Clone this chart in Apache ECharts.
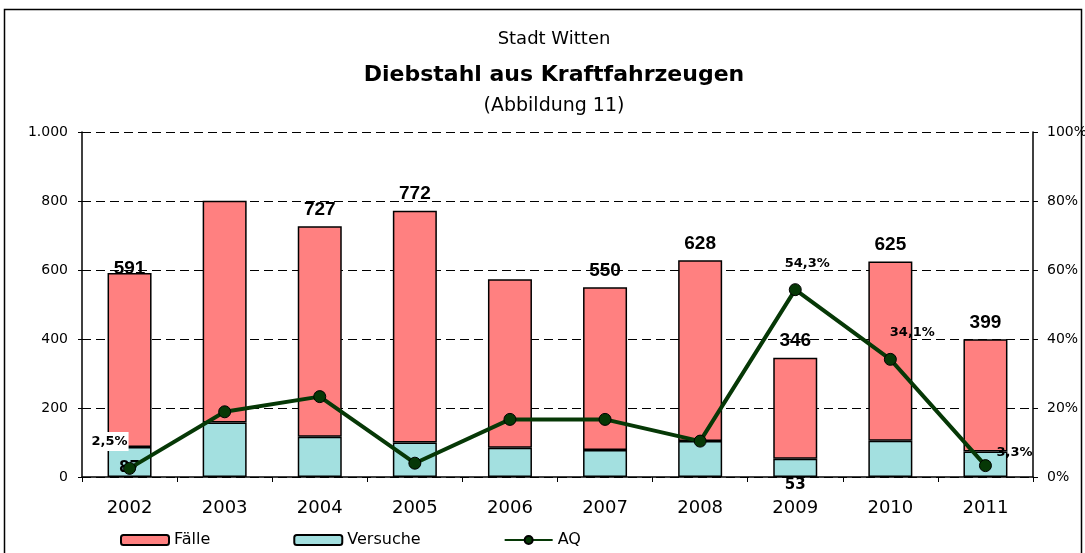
<!DOCTYPE html>
<html>
<head>
<meta charset="utf-8">
<script src="https://cdn.jsdelivr.net/npm/echarts@6/dist/echarts.min.js"></script>
<style>
  html, body { margin: 0; padding: 0; background: #fff; }
  #main { width: 1085px; height: 553px; }
</style>
</head>
<body>
<div id="main"></div>
<script>
// Jahre
var years = ['2002', '2003', '2004', '2005', '2006', '2007', '2008', '2009', '2010', '2011'];
// Fälle gesamt (inkl. Versuche)
var faelle = [591, 801, 727, 772, 573, 550, 628, 346, 625, 399];
// davon Versuche
var versuche = [87, 158, 117, 100, 85, 78, 104, 53, 105, 74];
// Aufklärungsquote in %
var aq = [2.5, 18.9, 23.3, 4.0, 16.7, 16.7, 10.4, 54.3, 34.1, 3.3];
// welche Werte beschriftet sind
var faelleLabel = [true, false, true, true, false, true, true, true, true, true];
var versucheLabel = [true, false, false, false, false, false, false, true, false, false];
var aqLabel = [true, false, false, false, false, false, false, true, true, true];

var wideFont = '"DejaVu Sans", Verdana, sans-serif';
var boldFont = '"Liberation Sans", Arial, sans-serif';

function deNum(v) {
    return v >= 1000 ? Math.floor(v / 1000) + '.' + String(v % 1000).padStart(3, '0') : String(v);
}

var chart = echarts.init(document.getElementById('main'));

// oberer (roter) Teil = Fälle minus Versuche
var redData = faelle.map(function (v, i) {
    var item = { value: v - versuche[i] };
    if (!faelleLabel[i]) item.label = { show: false };
    if (i === 0) item.label = { show: true, offset: [0, 12] };
    return item;
});

var cyanData = versuche.map(function (v, i) {
    var item = { value: v, label: { show: versucheLabel[i] } };
    if (i === 0) item.label = { show: true, position: 'inside', offset: [0, 6] };
    if (i === 7) item.label = { show: true, position: 'bottom', distance: 1 };
    return item;
});

var aqOffsets = [[-20, -6], null, null, null, null, null, null, [12, -8], [22, -9], [29, 5]];
var aqData = aq.map(function (v, i) {
    var item = { value: v, label: { show: aqLabel[i] } };
    if (aqLabel[i]) item.label.offset = aqOffsets[i];
    if (i === 0) {
        item.label.backgroundColor = '#fff';
        item.label.padding = [3, 1];
    }
    return item;
});

chart.setOption({
    animation: false,
    textStyle: { fontFamily: wideFont },
    title: [
        { text: 'Stadt Witten', left: 549, top: 25, textAlign: 'center',
          textStyle: { fontSize: 18, fontWeight: 'normal', color: '#000', fontFamily: wideFont } },
        { text: 'Diebstahl aus Kraftfahrzeugen', left: 549, top: 59, textAlign: 'center',
          textStyle: { fontSize: 22, fontWeight: 'bold', color: '#000', fontFamily: wideFont } },
        { text: '(Abbildung 11)', left: 549, top: 92, textAlign: 'center',
          textStyle: { fontSize: 19, fontWeight: 'normal', color: '#000', fontFamily: wideFont } }
    ],
    graphic: [{
        type: 'rect',
        shape: { x: 4.5, y: 9.5, width: 1077, height: 560 },
        style: { fill: 'none', stroke: '#000', lineWidth: 1.5 },
        silent: true
    }],
    legend: {
        left: 115,
        top: 527,
        itemWidth: 48,
        itemHeight: 10,
        itemGap: 83,
        textStyle: { fontSize: 16, color: '#000', fontFamily: wideFont },
        data: ['Fälle', 'Versuche', 'AQ']
    },
    grid: { left: 82, right: 52, top: 132, bottom: 76, outerBoundsMode: 'none', containLabel: false },
    xAxis: {
        type: 'category',
        data: years,
        axisLine: { lineStyle: { color: '#000', width: 1.5 } },
        axisTick: { show: true, length: 5, lineStyle: { color: '#000' } },
        axisLabel: { fontSize: 18, color: '#000', margin: 22, fontFamily: wideFont }
    },
    yAxis: [{
        type: 'value',
        min: 0, max: 1000, interval: 200,
        axisLine: { show: true, lineStyle: { color: '#000', width: 1.5 } },
        axisTick: { show: true, length: 4, lineStyle: { color: '#000' } },
        axisLabel: { fontSize: 14, color: '#000', margin: 14, fontFamily: wideFont,
            formatter: function (v) { return deNum(v); } },
        splitLine: { show: true, lineStyle: { color: '#000', type: [9, 5], width: 1 } }
    }, {
        type: 'value',
        min: 0, max: 100, interval: 20,
        axisLine: { show: true, lineStyle: { color: '#000', width: 1.5 } },
        axisTick: { show: true, length: 5, lineStyle: { color: '#000' } },
        axisLabel: { fontSize: 14, color: '#000', margin: 14, fontFamily: wideFont,
            formatter: '{value}%' },
        splitLine: { show: false }
    }],
    series: [{
        name: 'Versuche',
        type: 'bar',
        stack: 'kfz',
        barWidth: 44,
        itemStyle: { color: '#a3e0e0', borderColor: '#000', borderWidth: 1.5 },
        label: { show: false, fontSize: 15, fontWeight: 'bold', color: '#000', fontFamily: wideFont },
        data: cyanData
    }, {
        name: 'Fälle',
        type: 'bar',
        stack: 'kfz',
        barWidth: 44,
        itemStyle: { color: '#ff8080', borderColor: '#000', borderWidth: 1.5 },
        label: {
            show: true, position: 'top', distance: 7,
            fontSize: 19, fontWeight: 'bold', color: '#000', fontFamily: boldFont,
            formatter: function (p) { return faelle[p.dataIndex]; }
        },
        data: redData
    }, {
        name: 'AQ',
        type: 'line',
        yAxisIndex: 1,
        symbol: 'circle',
        symbolSize: 12,
        lineStyle: { color: '#063806', width: 4 },
        itemStyle: { color: '#063806', borderColor: '#000', borderWidth: 1 },
        label: {
            show: false, position: 'top', fontSize: 13, fontWeight: 'bold', color: '#000',
            fontFamily: wideFont,
            formatter: function (p) { return aq[p.dataIndex].toFixed(1).replace('.', ',') + '%'; }
        },
        data: aqData,
        z: 5
    }]
});
</script>
</body>
</html>
